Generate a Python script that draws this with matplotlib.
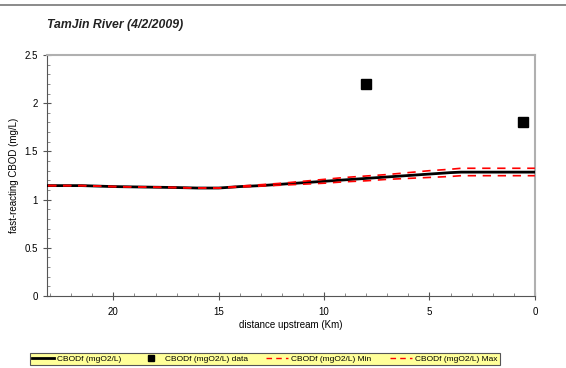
import matplotlib
matplotlib.use("Agg")
import matplotlib.pyplot as plt
from matplotlib.ticker import MultipleLocator
from matplotlib.lines import Line2D

plt.rcParams['font.family'] = ['Liberation Sans', 'DejaVu Sans']

# distance upstream (km) and model values
dist = [23.1, 21.5, 20.0, 18.5, 17.0, 16.0, 15.0, 14.0, 13.0, 12.0, 11.0, 10.0, 9.0, 8.0, 7.0, 6.0, 5.0, 4.0, 3.5, 2.0, 1.0, 0.0]
cbod = [1.145, 1.145, 1.135, 1.13, 1.125, 1.12, 1.12, 1.135, 1.145, 1.16, 1.175, 1.19, 1.205, 1.22, 1.235, 1.25, 1.265, 1.28, 1.285, 1.285, 1.285, 1.285]
cbod_min = [1.145, 1.145, 1.135, 1.13, 1.125, 1.12, 1.12, 1.13, 1.14, 1.15, 1.16, 1.17, 1.185, 1.195, 1.21, 1.22, 1.23, 1.24, 1.248, 1.248, 1.248, 1.248]
cbod_max = [1.145, 1.145, 1.135, 1.13, 1.125, 1.12, 1.12, 1.14, 1.155, 1.17, 1.19, 1.21, 1.23, 1.245, 1.26, 1.28, 1.30, 1.315, 1.325, 1.325, 1.325, 1.325]

data_dist = [8.0, 0.55]
data_val = [2.2, 1.81]

fig = plt.figure(figsize=(5.66, 3.68), dpi=100)
ax = fig.add_axes([0.083, 0.1957, 0.862, 0.6548])

ax.plot(dist, cbod, color='black', lw=2, zorder=3)
ax.plot(dist, cbod_min, color='red', lw=1.2, ls=(0, (5, 4)), zorder=4)
ax.plot(dist, cbod_max, color='red', lw=1.2, ls=(0, (5, 4)), zorder=4)
ax.plot(data_dist, data_val, ls='none', marker='s', ms=7, color='black', zorder=5)

ax.set_xlim(23.15, 0)
ax.set_ylim(0, 2.5)
ax.xaxis.set_minor_locator(MultipleLocator(1))
ax.yaxis.set_minor_locator(MultipleLocator(0.1))
ax.set_yticks([0, 0.5, 1, 1.5, 2, 2.5])
ax.set_yticklabels(['0', '0.5', '1', '1.5', '2', '2.5'])
ax.set_xticks([20, 15, 10, 5, 0])
ax.tick_params(axis='both', which='major', labelsize=7, direction='inout', length=6, color='#555555', width=0.8)
ax.tick_params(axis='both', which='minor', direction='in', length=2.5, color='#777777', width=0.6)
ax.tick_params(axis='x', pad=5)

ax.spines['left'].set_color('#555555')
ax.spines['bottom'].set_color('#555555')
ax.spines['top'].set_color('#b0b0b0')
ax.spines['right'].set_color('#b0b0b0')
ax.spines['top'].set_linewidth(1.5)
ax.spines['right'].set_linewidth(1.5)

ax.set_xlabel('distance upstream (Km)', fontsize=7, labelpad=2)
ax.set_ylabel('fast-reacting CBOD (mg/L)', fontsize=7, labelpad=4)

fig.text(0.083, 0.932, 'TamJin River (4/2/2009)', fontsize=8.8, style='italic', fontweight='bold', color='#222222', va='center')

# top rule
fig.add_artist(Line2D([0, 1], [0.986, 0.986], color='#777777', lw=1.2, transform=fig.transFigure))

handles = [
    Line2D([], [], color='black', lw=2),
    Line2D([], [], color='black', marker='s', ls='none', ms=5),
    Line2D([], [], color='red', lw=1, ls=(0, (4, 3))),
    Line2D([], [], color='red', lw=1, ls=(0, (4, 3))),
]
labels = ['CBODf (mgO2/L)', 'CBODf (mgO2/L) data', 'CBODf (mgO2/L) Min', 'CBODf (mgO2/L) Max']
leg = fig.legend(handles, labels, loc='center', bbox_to_anchor=(0.468, 0.0245), ncol=4, fontsize=6,
                 frameon=True, fancybox=False, borderpad=0.3, borderaxespad=0, handlelength=2.6,
                 columnspacing=2.2, handletextpad=0.4)
leg.get_frame().set_facecolor('#ffff99')
leg.get_frame().set_edgecolor('#555555')
leg.get_frame().set_linewidth(0.8)
leg.get_frame().set_alpha(1)

fig.savefig('out.png', dpi=100)
